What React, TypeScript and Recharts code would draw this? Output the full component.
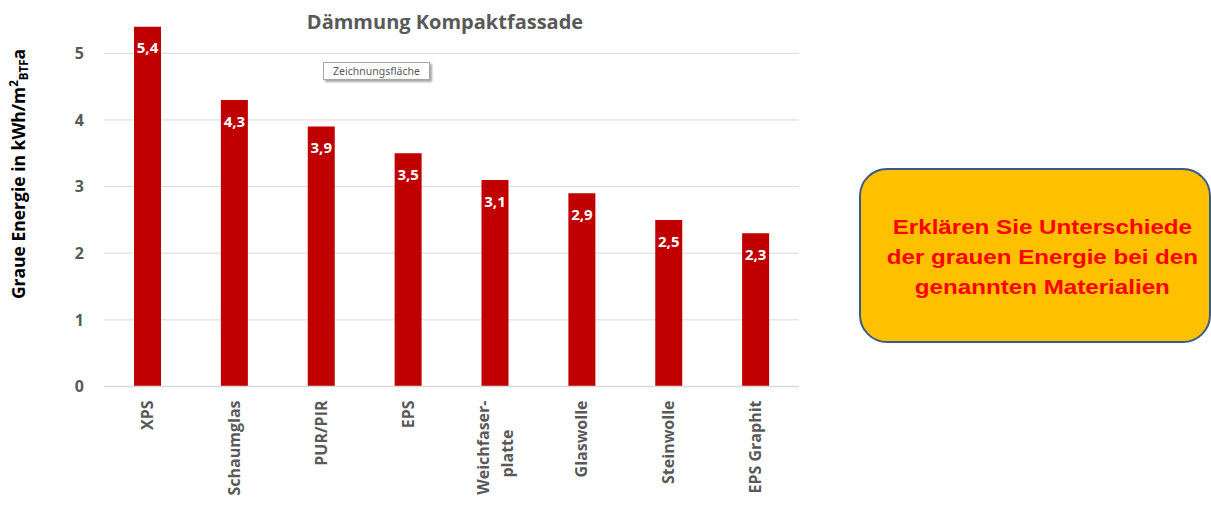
import React from 'react';
import { BarChart, Bar, XAxis, YAxis, CartesianGrid, LabelList } from 'recharts';

const categories = ['XPS', 'Schaumglas', 'PUR/PIR', 'EPS', 'Weichfaser-\nplatte', 'Glaswolle', 'Steinwolle', 'EPS Graphit'];
const values = [5.4, 4.3, 3.9, 3.5, 3.1, 2.9, 2.5, 2.3];
const yTicks = [0, 1, 2, 3, 4, 5];
const title = 'Dämmung Kompaktfassade';
const calloutLines = ['Erklären Sie Unterschiede', 'der grauen Energie bei den', 'genannten Materialien'];

const data = categories.map((c, i) => ({ name: c, value: values[i] }));

const FONT = "'Open Sans', sans-serif";

const XTick = (props: any) => {
  const { x, y, payload } = props;
  const lines = String(payload.value).split('\n');
  const common = { fontFamily: FONT, fontWeight: 700, fontSize: 16, fill: '#595959' };
  return (
    <g transform={`translate(${x},${y + 12})`}>
      {lines.length === 1 ? (
        <text transform="rotate(-90)" x={0} y={0} dy="0.35em" textAnchor="end" {...common}>
          {lines[0]}
        </text>
      ) : (
        <>
          <text transform="rotate(-90)" x={0} y={-12} dy="0.35em" textAnchor="end" {...common}>
            {lines[0]}
          </text>
          <text transform="rotate(-90)" x={-53} y={12} dy="0.35em" textAnchor="middle" {...common}>
            {lines[1]}
          </text>
        </>
      )}
    </g>
  );
};

const YLabel = () => (
  <text transform="translate(19,174) rotate(-90)" textAnchor="middle" dy="0.35em" fontFamily={FONT} fontWeight={700} fontSize={17.5} fill="#000">
    <tspan>Graue Energie in kWh/m</tspan>
    <tspan dy="-7" fontSize={11.5}>2</tspan>
    <tspan dy="10" fontSize={11.5}>BTF</tspan>
    <tspan dy="-3">a</tspan>
  </text>
);

export default function App() {
  return (
    <div style={{ position: 'absolute', left: 0, top: 0, width: 1211, height: 505, background: '#fff', overflow: 'hidden' }}>
      <BarChart width={1211} height={505} data={data} margin={{ top: 20, right: 412, bottom: 88.5, left: 0 }} barSize={27}>
        <CartesianGrid vertical={false} horizontalValues={yTicks} stroke="#D9D9D9" strokeWidth={1} />
        <XAxis
          dataKey="name"
          interval={0}
          height={30}
          tick={<XTick />}
          tickLine={false}
          tickSize={0}
          axisLine={{ stroke: '#D9D9D9', strokeWidth: 1.5 }}
        />
        <YAxis
          domain={[0, 5.5]}
          ticks={yTicks}
          width={104}
          tickLine={false}
          axisLine={false}
          tickSize={0}
          tickMargin={20}
          tick={{ fontFamily: FONT, fontWeight: 700, fontSize: 16, fill: '#595959' }}
          label={<YLabel />}
        />
        <Bar dataKey="value" fill="#C00000" isAnimationActive={false}>
          <LabelList
            dataKey="value"
            position="insideTop"
            offset={16}
            formatter={(v: any) => String(v).replace('.', ',')}
            style={{ fontFamily: FONT, fontWeight: 700, fontSize: 15, fill: '#fff' }}
          />
        </Bar>
      </BarChart>
      <div style={{ position: 'absolute', left: 245, top: 8, width: 400, textAlign: 'center', fontFamily: FONT, fontWeight: 700, fontSize: 20, color: '#595959' }}>
        {title}
      </div>
      <div style={{ position: 'absolute', left: 323, top: 62, width: 107, height: 18, border: '1px solid #A6A6A6', background: '#fff', boxShadow: '2px 2px 2px rgba(0,0,0,0.35)', fontFamily: "'Noto Sans', sans-serif", fontSize: 10.5, color: '#595959', textAlign: 'center', lineHeight: '16px', boxSizing: 'border-box' }}>
        Zeichnungsfläche
      </div>
      <div style={{ position: 'absolute', left: 859, top: 168, width: 352, height: 175, boxSizing: 'border-box', background: '#FFC000', border: '2px solid #3B5A8C', borderRadius: 28, display: 'flex', flexDirection: 'column', justifyContent: 'center', alignItems: 'center', fontFamily: "'Liberation Sans', Arial, sans-serif", fontWeight: 700, fontSize: 21, color: '#FF0000', lineHeight: '30px' }}>
        <div style={{ transform: 'scaleX(1.15)', textAlign: 'center', marginTop: 2, marginLeft: 14 }}>
          {calloutLines.map((l, i) => (
            <div key={i}>{l}</div>
          ))}
        </div>
      </div>
    </div>
  );
}
